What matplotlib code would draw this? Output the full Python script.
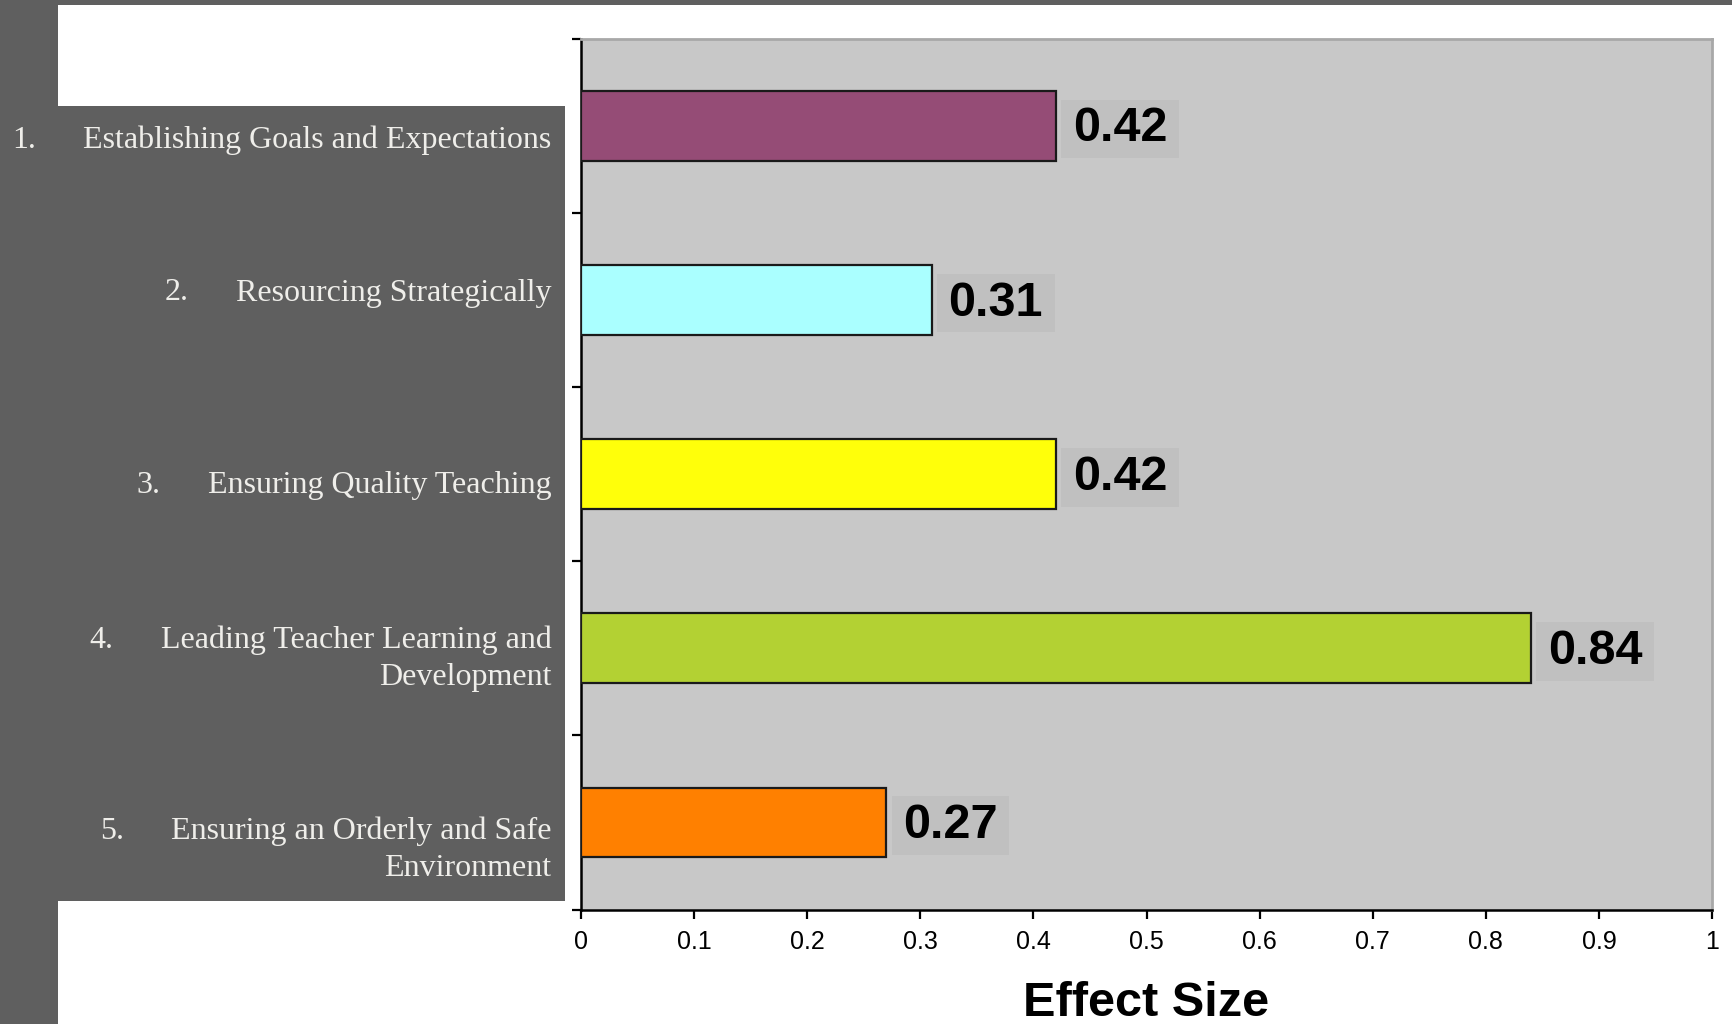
import matplotlib
matplotlib.use("Agg")
import matplotlib.pyplot as plt
from matplotlib.patches import Rectangle

# ---- data ----
numbers = ["1.", "2.", "3.", "4.", "5."]
label_lines = [
    ["Establishing Goals and Expectations"],
    ["Resourcing Strategically"],
    ["Ensuring Quality Teaching"],
    ["Leading Teacher Learning and", "Development"],
    ["Ensuring an Orderly and Safe", "Environment"],
]
values = [0.42, 0.31, 0.42, 0.84, 0.27]
value_labels = ["0.42", "0.31", "0.42", "0.84", "0.27"]
bar_colors = ["#954c76", "#aaffff", "#ffff0a", "#b3d133", "#ff8000"]
xticks = [0, 0.1, 0.2, 0.3, 0.4, 0.5, 0.6, 0.7, 0.8, 0.9, 1]
xtick_labels = ["0", "0.1", "0.2", "0.3", "0.4", "0.5", "0.6", "0.7", "0.8", "0.9", "1"]
xlabel = "Effect Size"

W, H = 1733, 1024
fig = plt.figure(figsize=(W / 100, H / 100), dpi=100)
fig.patch.set_facecolor("#5f5f5f")

# white slide area
fig.add_artist(Rectangle((57.5 / W, 0), 1 - 57.5 / W, 1 - 5 / H,
                         transform=fig.transFigure, facecolor="white",
                         edgecolor="none", zorder=0))
# dark label panel
fig.add_artist(Rectangle((0, 1 - 901 / H), 565 / W, (901 - 106) / H,
                         transform=fig.transFigure, facecolor="#5f5f5f",
                         edgecolor="none", zorder=0))

ax = fig.add_axes([581 / W, 1 - 909.6 / H, (1712 - 581) / W, (909.6 - 38.7) / H])
ax.set_facecolor("#c8c8c8")

ypos = list(range(len(values)))
ax.barh(ypos, values, height=0.4, color=bar_colors, edgecolor="#1a1a1a",
        linewidth=1.6, zorder=3)

value_texts = []
for y, v, s in zip(ypos, values, value_labels):
    t = ax.annotate(s, xy=(v, y), xytext=(12.2, -2.3), textcoords="offset points",
                    ha="left", va="center", fontsize=35, fontweight="bold",
                    family="Liberation Sans", color="black", zorder=6)
    value_texts.append(t)

ax.set_xlim(0, 1)
ax.set_ylim(len(values) - 0.5, -0.5)
ax.set_xticks(xticks)
ax.set_xticklabels(xtick_labels, fontsize=18, family="Liberation Sans")
ax.set_yticks([i - 0.5 for i in range(len(values) + 1)])
ax.set_yticklabels([])
ax.tick_params(axis="both", direction="out", length=6.5, width=1.6, color="black")
ax.tick_params(axis="x", pad=8)

for side in ["left", "bottom"]:
    ax.spines[side].set_color("black")
    ax.spines[side].set_linewidth(1.8)
for side in ["top", "right"]:
    ax.spines[side].set_color("#a8a8a8")
    ax.spines[side].set_linewidth(2.0)

fig.text(0.5 * (581 + 1712) / W, 1 - 1003 / H, xlabel, ha="center", va="center",
         fontsize=35, fontweight="bold", family="Liberation Sans", color="black")

# category labels on the dark panel
label_color = "#efeeea"
text_right = 551.5 / W
line_y = [[140.5], [293], [485.5], [640, 677.6], [831.3, 868.9]]
label_texts = []
for lines, ys in zip(label_lines, line_y):
    first = None
    for ln, yy in zip(lines, ys):
        t = fig.text(text_right, 1 - yy / H, ln, ha="right", va="center",
                     fontsize=23, family="Liberation Serif", color=label_color)
        if first is None:
            first = t
    label_texts.append(first)

fig.canvas.draw()
renderer = fig.canvas.get_renderer()

# list numbers placed at a fixed tab distance before each first line
for num, first, ys in zip(numbers, label_texts, line_y):
    bb = first.get_window_extent(renderer=renderer)
    fig.text((bb.x0 - 71) / W, 1 - ys[0] / H, num, ha="left", va="center",
             fontsize=23, family="Liberation Serif", color=label_color)

# shaded boxes behind value labels
for t in value_texts:
    bb = t.get_window_extent(renderer=renderer)
    cy = 0.5 * (bb.y0 + bb.y1)
    bw = bb.width + 23
    bh = 58.6
    ax.add_patch(Rectangle(((bb.x0 - 11.5) / W, (cy - bh / 2) / H), bw / W, bh / H,
                           transform=fig.transFigure, facecolor="#c0c0c0",
                           edgecolor="none", zorder=4, clip_on=False))

fig.savefig("out.png", dpi=100, facecolor=fig.get_facecolor())
